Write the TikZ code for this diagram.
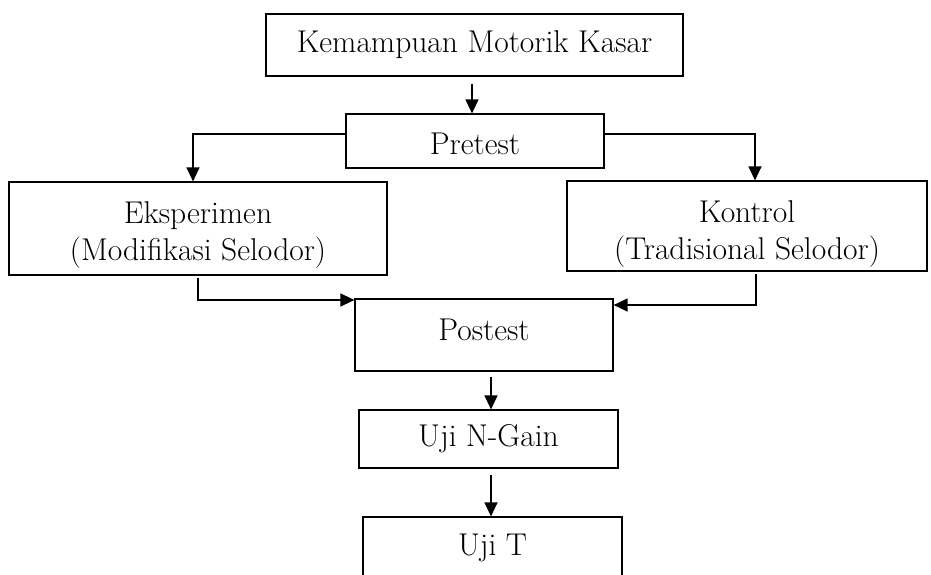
\documentclass[tikz,border=0pt]{standalone}
\usepackage{fontspec}
\setmainfont{Latin Modern Roman}
\usetikzlibrary{arrows.meta,calc}
\newcommand{\vshift}[2]{\raisebox{#1}[\height][\depth]{#2}}
\begin{document}
\begin{tikzpicture}[x=1pt,y=-1pt,
  box/.style={draw,line width=1.2pt,inner sep=0pt,align=center,font=\fontsize{31.5}{37}\selectfont},
  arr/.style={line width=1.3pt,-{Triangle[length=14pt,width=13pt]}}]
\useasboundingbox (0,0) rectangle (931,574);
\clip (0,0) rectangle (931,574);
\node[box,minimum width=417pt,minimum height=62pt] (top) at (474.5,45) {Kemampuan Motorik Kasar};
\node[box,minimum width=258pt,minimum height=54pt] (pre) at (475,141) {\vshift{-3pt}{Pretest}};
\node[box,minimum width=378pt,minimum height=93pt] (eks) at (198,228.5) {\vshift{-6pt}{\begin{tabular}{@{}c@{}}Eksperimen\\(Modifikasi Selodor)\end{tabular}}};
\node[box,minimum width=360pt,minimum height=90pt] (kon) at (747,226) {\vshift{-7.5pt}{\begin{tabular}{@{}c@{}}Kontrol\\(Tradisional Selodor)\end{tabular}}};
\node[box,minimum width=258pt,minimum height=72pt] (post) at (484,335) {\vshift{5pt}{Postest}};
\node[box,minimum width=259pt,minimum height=58pt] (ng) at (488.5,439) {Uji N-Gain};
\node[box,minimum width=259pt,minimum height=62pt] (ut) at (492.5,548) {Uji T};
\coordinate (c1) at (193,134);
\coordinate (c2) at (755,134);
\coordinate (c3) at (198,300);
\coordinate (c4) at (756,305);
\draw[arr] ([shift={(-2.5,7)}]top.south) -- ([xshift=-3pt]pre.north);
\draw[arr] (pre.west |- c1) -- (c1) -- (c1 |- eks.north);
\draw[arr] (pre.east |- c2) -- (c2) -- (c2 |- kon.north);
\draw[arr] ([yshift=-2pt]eks.south -| c3) -- (c3) -- (c3 -| post.west);
\draw[arr] ([yshift=-2pt]kon.south -| c4) -- (c4) -- (c4 -| post.east);
\draw[arr] ([shift={(7,5)}]post.south) -- ([xshift=2.5pt]ng.north);
\draw[arr] ([shift={(2.5,6)}]ng.south) -- ([xshift=-1.5pt]ut.north);
\end{tikzpicture}
\end{document}
